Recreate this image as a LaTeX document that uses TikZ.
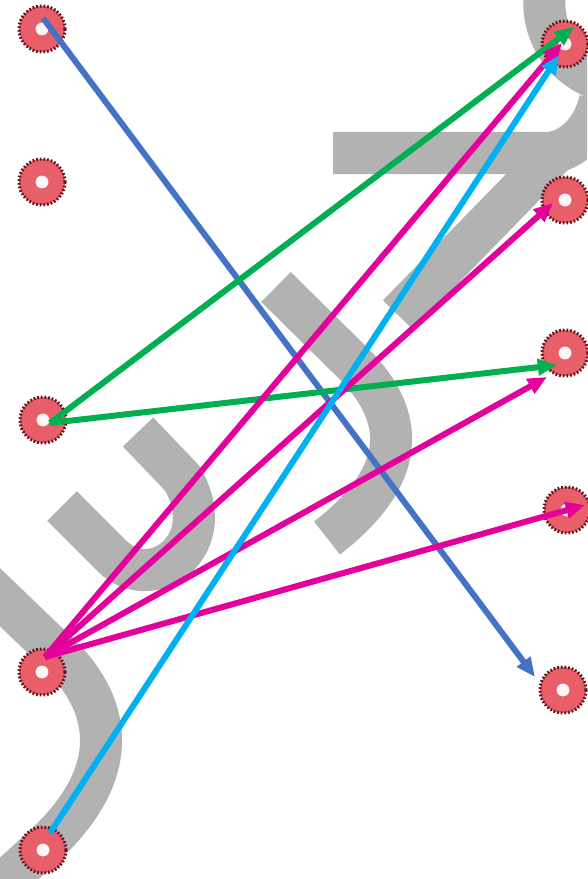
\documentclass[tikz,border=0pt]{standalone}
\usepackage{tikz}
\usetikzlibrary{arrows.meta}

\definecolor{dotfill}{RGB}{232,95,105}
\definecolor{dotedge}{RGB}{95,20,25}
\definecolor{markgray}{RGB}{178,178,178}
\definecolor{lineblue}{RGB}{68,114,196}
\definecolor{linegreen}{RGB}{0,176,80}
\definecolor{linepink}{RGB}{228,0,154}
\definecolor{linecyan}{RGB}{0,176,240}

\begin{document}
\begin{tikzpicture}[
    x=0.025cm, y=-0.025cm,
    dot/.style={circle, minimum size=1.15cm, inner sep=0pt, fill=dotfill,
        draw=dotedge, line width=2.2pt, dash pattern=on 1.2pt off 1.4pt,
        path picture={\fill[white!85!pink] (path picture bounding box.center) circle (0.16cm);}},
    letterstroke/.style={markgray, line width=1.05cm, line cap=butt},
    arrow/.style={-{Triangle[length=0.48cm,width=0.4cm]}, line width=0.15cm}
]
\useasboundingbox (0,0) rectangle (587,879);
\fill[white] (0,0) rectangle (587,879);

% grey letters in the background
\begin{scope}
\clip (0,0) rectangle (587,879);
\draw[letterstroke] (-20,578) -- (58,653) .. controls (110,703) and (125,770) .. (45,845) -- (-10,895);
\draw[letterstroke] (62,506) -- (112,556) .. controls (152,596) and (222,545) .. (182,478) -- (138,432);
\draw[letterstroke] (276,287) -- (350,360) .. controls (402,410) and (415,470) .. (327,538);
\draw[letterstroke] (333,153) -- (545,153) .. controls (575,153) and (595,125) .. (600,100);
\draw[letterstroke] (398,315) -- (515,195) .. controls (535,175) and (545,160) .. (560,150);
\draw[letterstroke] (545,-10) .. controls (540,30) and (560,65) .. (600,80);
\end{scope}

% left column
\node[dot] (l1) at (42,29) {};
\node[dot] (l2) at (42,182) {};
\node[dot] (l3) at (43,420) {};
\node[dot] (l4) at (42,672) {};
\node[dot] (l5) at (43,850) {};

% right column
\node[dot] (r1) at (565,44) {};
\node[dot] (r2) at (565,200) {};
\node[dot] (r3) at (565,353) {};
\node[dot] (r4) at (567,510) {};
\node[dot] (r5) at (563,690) {};

% connections
\draw[arrow, lineblue] ([shift={(1,-11)}]l1.center) -- ([shift={(-28,-13)}]r5.center);
\draw[arrow, linegreen] ([shift={(7,3)}]l3.center) -- ([shift={(9,-17)}]r1.center);
\draw[arrow, linegreen] ([shift={(7,3)}]l3.center) -- ([shift={(-8,12)}]r3.center);
\draw[arrow, linepink] ([shift={(3,-15)}]l4.center) -- ([shift={(-3,-1)}]r1.center);
\draw[arrow, linepink] ([shift={(3,-15)}]l4.center) -- ([shift={(-12,3)}]r2.center);
\draw[arrow, linepink] ([shift={(3,-15)}]l4.center) -- ([shift={(-18,24)}]r3.center);
\draw[arrow, linepink] ([shift={(3,-15)}]l4.center) -- ([shift={(18,-5)}]r4.center);
\draw[arrow, linecyan] ([shift={(7,-17)}]l5.center) -- ([shift={(-6,11)}]r1.center);
\end{tikzpicture}
\end{document}
